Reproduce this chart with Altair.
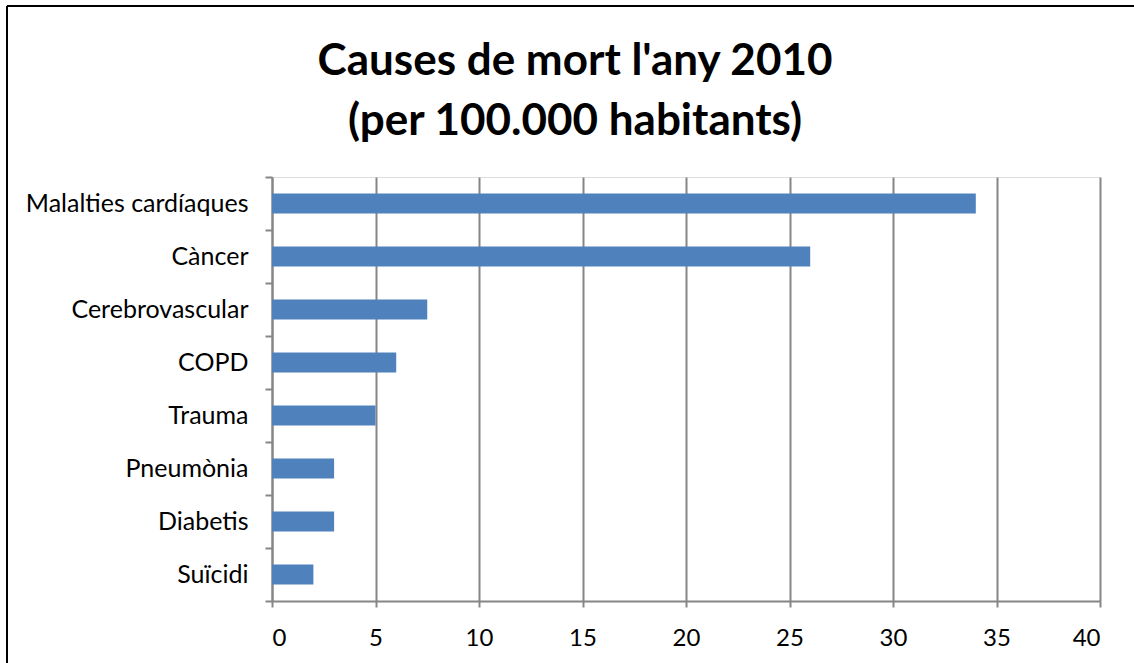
import altair as alt
import pandas as pd

causes = ["Malalties cardíaques", "Càncer", "Cerebrovascular", "COPD",
          "Trauma", "Pneumònia", "Diabetis", "Suïcidi"]
values = [34, 26, 7.5, 6, 5, 3, 3, 2]
x_ticks = [0, 5, 10, 15, 20, 25, 30, 35, 40]
title_lines = ["Causes de mort l'any 2010", "(per 100.000 habitants)"]

df = pd.DataFrame({"cause": causes, "value": values})

FONT = "Lato"
GRAY = "#868686"

bars = alt.Chart(df).mark_bar(color="#4F81BD", height=alt.RelativeBandSize(0.38)).encode(
    x=alt.X("value:Q",
            scale=alt.Scale(domain=[0, 40], nice=False),
            axis=alt.Axis(values=x_ticks, title=None, grid=True, gridColor=GRAY,
                          gridWidth=2, domainColor=GRAY, domainWidth=2,
                          tickColor=GRAY, tickWidth=2, tickSize=6,
                          labelFont=FONT, labelFontSize=24, labelColor="black",
                          labelPadding=19)),
    y=alt.Y("cause:N", sort=causes,
            scale=alt.Scale(paddingInner=0, paddingOuter=0),
            axis=alt.Axis(title=None, grid=False, tickBand="extent",
                          domainColor=GRAY, domainWidth=2,
                          tickColor=GRAY, tickWidth=2, tickSize=7,
                          labelFont=FONT, labelFontSize=25, labelColor="black",
                          labelPadding=17, labelLimit=400)),
)

frame = alt.Chart(alt.Data(values=[{}])).mark_rule(color="black", strokeWidth=2, clip=False)
left_line = frame.encode(x=alt.value(-265), y=alt.value(-171), y2=alt.value(520))
top_line = frame.encode(x=alt.value(-265), x2=alt.value(900), y=alt.value(-171))

title_base = alt.Chart(alt.Data(values=[{}])).mark_text(
    font=FONT, fontSize=44, fontWeight="bold", color="black",
    align="center", baseline="alphabetic", clip=False)
title1 = title_base.encode(text=alt.value(title_lines[0]), x=alt.value(303), y=alt.value(-102))
title2 = title_base.encode(text=alt.value(title_lines[1]), x=alt.value(303), y=alt.value(-42))

chart = alt.layer(bars, left_line, top_line, title1, title2).properties(
    width=828, height=424,
    autosize=alt.AutoSizeParams(type="none"),
    padding={"left": 272, "top": 177, "right": 34, "bottom": 62},
).configure_view(stroke=None).configure(background="white")

chart.save("out.html", embed_options={"renderer": "svg", "actions": False})
